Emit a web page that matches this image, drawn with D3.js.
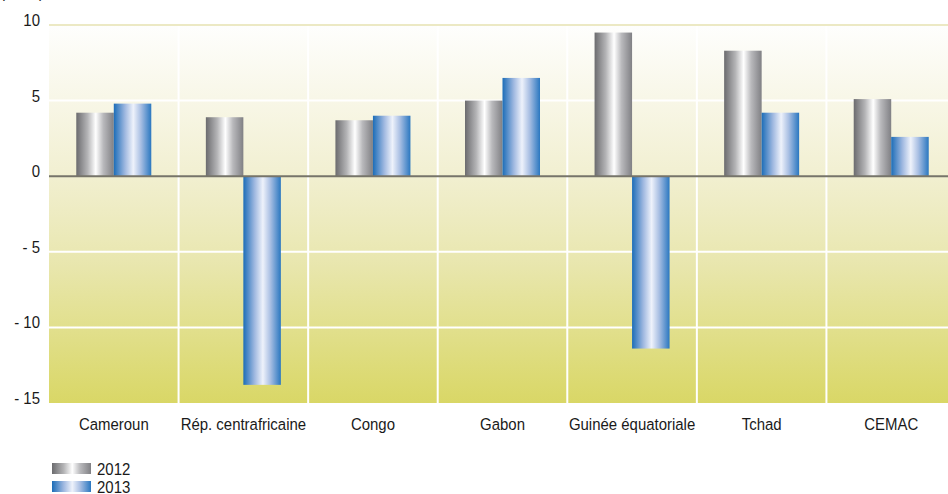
<!DOCTYPE html>
<html>
<head>
<meta charset="utf-8">
<script src="https://cdn.jsdelivr.net/npm/d3@7"></script>
<style>
  html, body { margin: 0; padding: 0; background: #fff; overflow: hidden; }
  svg { display: block; }
  text { font-family: "Liberation Sans", Arial, Helvetica, sans-serif; fill: #1a1a1a; }
</style>
</head>
<body>
<svg id="chart" width="948" height="494"></svg>
<script>
// Real GDP growth by country (%)
const categories = ["Cameroun", "Rép. centrafricaine", "Congo", "Gabon", "Guinée équatoriale", "Tchad", "CEMAC"];
const seriesNames = ["2012", "2013"];
const values2012 = [4.2, 3.9, 3.7, 5.0, 9.5, 8.3, 5.1];
const values2013 = [4.8, -13.8, 4.0, 6.5, -11.4, 4.2, 2.6];
const yTicks = [10, 5, 0, -5, -10, -15];
const yTickLabels = ["10", "5", "0", "- 5", "- 10", "- 15"];

const svg = d3.select("#chart");
const margin = { left: 49, top: 25 };
const plotW = 907, plotH = 378;
const squeeze = 0.88; // condensed lettering

const x = d3.scaleBand().domain(categories).range([margin.left, margin.left + plotW]);
const xs = d3.scaleBand().domain(seriesNames).range([0, 75]);
const y = d3.scaleLinear().domain([-15, 10]).range([margin.top + plotH, margin.top]);

const defs = svg.append("defs");

// background wash: white at the top fading to olive yellow at the bottom
const bg = defs.append("linearGradient").attr("id", "bg").attr("x1", 0).attr("y1", 0).attr("x2", 0).attr("y2", 1);
[["0%", "#fefefd"], ["38%", "#f2f0d3"], ["62%", "#e9e7b0"], ["100%", "#d9d766"]]
  .forEach(([o, c]) => bg.append("stop").attr("offset", o).attr("stop-color", c));

// cylinder-like horizontal shading for the bars
function barGrad(id, stops) {
  const g = defs.append("linearGradient").attr("id", id).attr("x1", 0).attr("y1", 0).attr("x2", 1).attr("y2", 0);
  stops.forEach(([o, c]) => g.append("stop").attr("offset", o).attr("stop-color", c));
}
barGrad("g2012", [["0%", "#6b6b6e"], ["30%", "#b4b4b6"], ["52%", "#ffffff"], ["72%", "#b9b9bc"], ["100%", "#808084"]]);
barGrad("g2013", [["0%", "#1c6db8"], ["30%", "#9fb8e0"], ["52%", "#eef2fb"], ["72%", "#a9bfe3"], ["100%", "#2a77c0"]]);
const fills = { "2012": "url(#g2012)", "2013": "url(#g2013)" };

// condensed text helper
function label(sel, fx, fy) {
  return sel.attr("transform", (d, i) => `translate(${fx(d, i)},${fy(d, i)}) scale(${squeeze},1)`);
}

// plot background
svg.append("rect")
  .attr("x", margin.left).attr("y", y(10))
  .attr("width", plotW).attr("height", y(-15) - y(10))
  .attr("fill", "url(#bg)");

// horizontal grid
svg.append("g").selectAll("line").data([5, -5, -10]).join("line")
  .attr("x1", margin.left).attr("x2", margin.left + plotW)
  .attr("y1", d => y(d)).attr("y2", d => y(d))
  .attr("stroke", "#ffffff").attr("stroke-width", 2);

// vertical separators between categories
svg.append("g").selectAll("line").data(categories.slice(1)).join("line")
  .attr("x1", d => x(d)).attr("x2", d => x(d))
  .attr("y1", y(10)).attr("y2", y(-15))
  .attr("stroke", "#ffffff").attr("stroke-width", 2);

// top border line
svg.append("line")
  .attr("x1", margin.left).attr("x2", margin.left + plotW)
  .attr("y1", y(10)).attr("y2", y(10))
  .attr("stroke", "#ece9c4").attr("stroke-width", 2);

// bars
const rows = categories.map((c, i) => ({ c, v: { "2012": values2012[i], "2013": values2013[i] } }));
const groups = svg.append("g").selectAll("g").data(rows).join("g")
  .attr("transform", d => `translate(${x(d.c) + (x.bandwidth() - 75) / 2},0)`);
groups.selectAll("rect").data(d => seriesNames.map(s => ({ s, v: d.v[s] }))).join("rect")
  .attr("x", d => xs(d.s))
  .attr("width", xs.bandwidth())
  .attr("y", d => y(Math.max(0, d.v)))
  .attr("height", d => Math.abs(y(d.v) - y(0)))
  .attr("fill", d => fills[d.s]);

// zero line
svg.append("line")
  .attr("x1", margin.left).attr("x2", margin.left + plotW)
  .attr("y1", y(0)).attr("y2", y(0))
  .attr("stroke", "#76746a").attr("stroke-width", 2);

// y axis labels
label(svg.append("g").selectAll("text").data(yTicks).join("text"), () => 40, d => y(d) + 1)
  .attr("text-anchor", "end")
  .attr("font-size", 17)
  .text((d, i) => yTickLabels[i]);

// unit label (sits above the frame)
svg.append("text").attr("transform", `translate(0,-2) scale(${squeeze},1)`)
  .attr("font-size", 17).text("(en %)");

// category labels
label(svg.append("g").selectAll("text").data(categories).join("text"),
      d => x(d) + x.bandwidth() / 2, () => 430)
  .attr("text-anchor", "middle")
  .attr("font-size", 17)
  .text(d => d);

// legend
const legend = svg.append("g").selectAll("g").data(seriesNames).join("g")
  .attr("transform", (d, i) => `translate(52,${463 + i * 18})`);
legend.append("rect").attr("width", 39).attr("height", 11).attr("fill", d => fills[d]);
legend.append("text").attr("transform", `translate(45,12) scale(${squeeze},1)`)
  .attr("font-size", 17).text(d => d);
</script>
</body>
</html>
